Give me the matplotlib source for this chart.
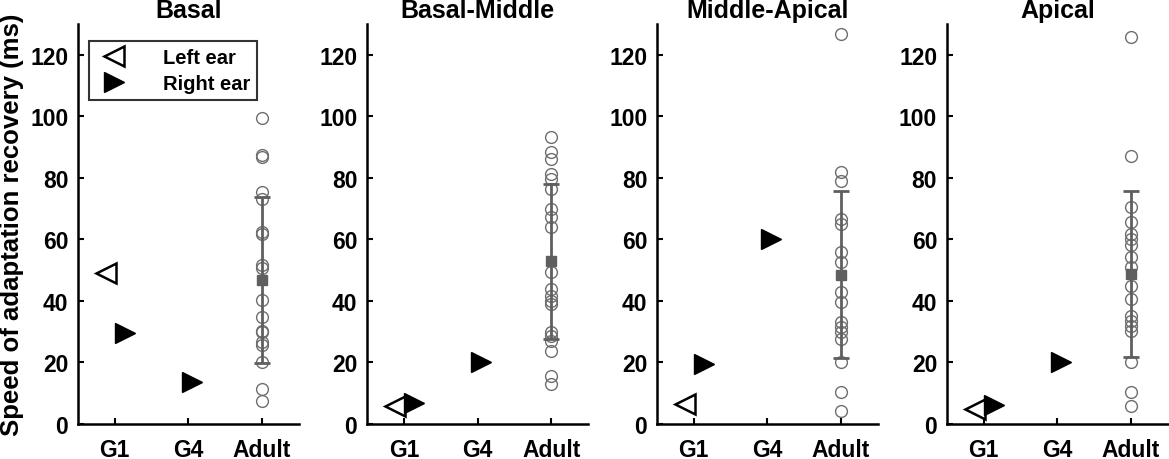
import matplotlib
matplotlib.use('Agg')
import matplotlib.pyplot as plt
from matplotlib.lines import Line2D

plt.rcParams['font.family'] = ['Liberation Sans', 'DejaVu Sans']
plt.rcParams['font.weight'] = 'bold'

# groups on the x axis
groups = ['G1', 'G4', 'Adult']
regions = ['Basal', 'Basal-Middle', 'Middle-Apical', 'Apical']

# G1 left ear, G1 right ear, G4 right ear (ms)
g1_left = [49.1, 5.9, 6.5, 4.9]
g1_right = [29.6, 6.8, 19.5, 6.2]
g4_right = [13.7, 20.3, 60.0, 20.3]

# small horizontal shifts used in the original to separate ears
shift_left = -0.12
shift_right = 0.14
shift_g4 = 0.05

# adult individual points (ms)
adult_basal = [99.4, 87.3, 86.6, 75.5, 73.0, 62.3, 61.8, 51.5, 50.6, 40.3,
               34.7, 30.3, 29.8, 26.6, 25.7, 20.1, 11.4, 7.6]
adult_basal_middle = [93.2, 88.4, 86.2, 81.3, 79.7, 76.4, 69.9, 67.2, 64.0, 49.3,
                      43.9, 41.7, 40.1, 39.0, 29.8, 28.7, 27.1, 23.8, 15.7, 13.0]
adult_middle_apical = [126.8, 81.8, 79.1, 66.7, 65.0, 55.8, 52.6, 42.8, 39.6, 33.1,
                       31.4, 29.8, 27.6, 20.1, 10.3, 4.3]
adult_apical = [125.8, 87.1, 70.5, 65.6, 61.8, 60.2, 58.0, 54.2, 51.0, 45.0,
                40.7, 35.2, 33.6, 32.0, 30.3, 20.1, 10.3, 6.0]
adult_points = [adult_basal, adult_basal_middle, adult_middle_apical, adult_apical]

# adult mean and SD (ms)
adult_mean = [46.9, 52.8, 48.5, 48.7]
adult_sd = [27.0, 25.2, 27.2, 27.0]

fig = plt.figure(figsize=(11.69, 4.6), dpi=100)
lefts = [0.0667, 0.314, 0.562, 0.810]
w, b, h = 0.189, 0.076, 0.870

circ_col = '#6e6e6e'
bar_col = '#5f5f5f'

for i, reg in enumerate(regions):
    ax = fig.add_axes([lefts[i], b, w, h])
    ax.plot(1 + shift_left, g1_left[i], marker='<', ms=14, mfc='white', mec='black',
            mew=1.8, ls='none', zorder=3)
    ax.plot(1 + shift_right, g1_right[i], marker='>', ms=14, mfc='black', mec='black',
            ls='none', zorder=3)
    ax.plot(2 + shift_g4, g4_right[i], marker='>', ms=14, mfc='black', mec='black',
            ls='none', zorder=3)
    ax.plot([3] * len(adult_points[i]), adult_points[i], marker='o', ms=8.5,
            mfc='none', mec=circ_col, mew=1.0, ls='none', zorder=2)
    ax.errorbar(3, adult_mean[i], yerr=adult_sd[i], fmt='s', ms=7, color=bar_col,
                ecolor=bar_col, elinewidth=2, capsize=6, capthick=2, zorder=4)

    ax.set_xlim(0.5, 3.5)
    ax.set_ylim(0, 130)
    ax.set_xticks([1, 2, 3])
    ax.set_xticklabels(groups)
    ax.set_yticks(range(0, 121, 20))
    ax.tick_params(direction='in', length=4, width=1.5, labelsize=16.5)
    ax.tick_params(axis='x', pad=10)
    ax.tick_params(axis='y', pad=7)
    for lab in ax.get_xticklabels() + ax.get_yticklabels():
        lab.set_fontweight('bold')
    for s in ['top', 'right']:
        ax.spines[s].set_visible(False)
    for s in ['left', 'bottom']:
        ax.spines[s].set_linewidth(1.8)
    ax.set_title(reg, fontsize=18, fontweight='bold', pad=5)

    if i == 0:
        ax.set_ylabel('Speed of adaptation recovery (ms)', fontsize=18.5,
                      fontweight='bold', labelpad=4)
        handles = [
            Line2D([], [], marker='<', ms=14, mfc='white', mec='black', mew=1.8, ls='none'),
            Line2D([], [], marker='>', ms=14, mfc='black', mec='black', ls='none'),
        ]
        leg = ax.legend(handles, ['Left ear', 'Right ear'], loc='upper left',
                        bbox_to_anchor=(0.05, 0.9575), borderaxespad=0,
                        frameon=True, fancybox=False,
                        prop={'size': 14.5, 'weight': 'bold'}, handletextpad=1.5,
                        borderpad=0.35, labelspacing=0.35, handlelength=1.8)
        leg.get_frame().set_edgecolor('black')
        leg.get_frame().set_linewidth(1.5)

fig.savefig('out.png', dpi=100)
